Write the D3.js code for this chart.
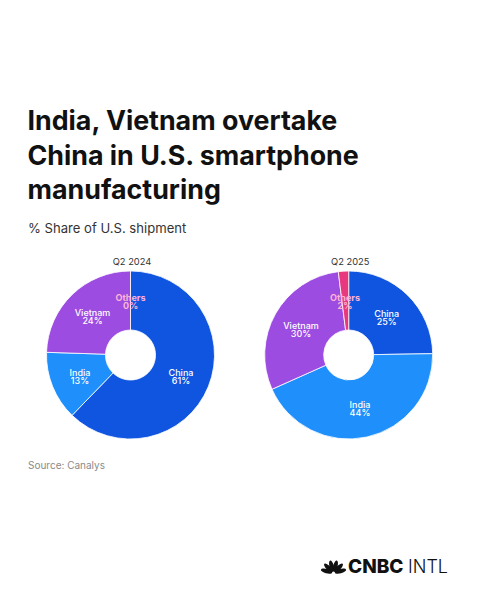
<!DOCTYPE html>
<html><head><meta charset="utf-8">
<script src="https://cdn.jsdelivr.net/npm/d3@7"></script>
<style>html,body{margin:0;padding:0;background:#fff}svg{display:block}text{font-family:Inter,Lato,sans-serif}</style>
</head><body><svg id="c" width="480" height="600"></svg>
<script>
const categories = ["China","India","Vietnam","Others"];
const values2024 = [61,13,24,0];
const values2025 = [25,44,30,2];
const periods = ["Q2 2024","Q2 2025"];
const colors = ["#0f55e0","#1f8ffb","#9c4ce0","#e8397f"];
const titleLines = ["India, Vietnam overtake","China in U.S. smartphone","manufacturing"];
const subtitle = "% Share of U.S. shipment";
const source = "Source: Canalys";

const svg = d3.select("#c");
const color = d3.scaleOrdinal(categories, colors);
const pie = d3.pie().sort(null).value(d=>d.v);
const R = 84, r0 = 25;
const arc = d3.arc().innerRadius(r0).outerRadius(R);

svg.selectAll("text.t").data(titleLines).join("text").attr("class","t")
  .attr("x",27.5).attr("y",(d,i)=>130+i*34.5)
  .attr("font-size",26.8).attr("font-weight",700).attr("fill","#111").text(d=>d);
svg.append("text").attr("x",28).attr("y",232.5).attr("font-size",13.1).attr("fill","#333").text(subtitle);
svg.append("text").attr("x",28).attr("y",469).attr("font-size",10).attr("fill","#8a8a8a").text(source);

const labelPos = {
 "Q2 2024":{China:[181,375.5],India:[80,375.5],Vietnam:[92.5,316],Others:[130.5,301]},
 "Q2 2025":{China:[386.7,316.5],India:[360,408],Vietnam:[301,328.5],Others:[345,301]}
};
function donut(period, vals, cx, cy){
  const g = svg.append("g").attr("transform",`translate(${cx},${cy})`);
  const data = categories.map((c,i)=>({c,v:vals[i]}));
  g.selectAll("path").data(pie(data)).join("path")
    .attr("d",arc).attr("fill",d=>color(d.data.c))
    .attr("stroke","#fff").attr("stroke-width",d=>d.value>0?0.8:0);
  svg.append("text").attr("x",cx+1.5).attr("y",265).attr("text-anchor","middle")
    .attr("font-size",9.3).attr("font-weight",400).attr("fill","#333").text(period);
  data.forEach(d=>{
    const p = labelPos[period][d.c];
    const other = d.c==="Others";
    const t = svg.append("text").attr("text-anchor","middle")
      .attr("font-size",9).attr("font-weight",other?700:500).attr("fill",other?"#ffb3d6":"#fff");
    [d.c, d.v+"%"].forEach((s,i)=>{
      t.append("tspan").attr("x",p[0]).attr("y",p[1]+i*8).text(s);
    });
  });
}
donut(periods[0],values2024,130.5,355);
donut(periods[1],values2025,348.7,355);

// logo
const logo = svg.append("g").attr("transform","translate(333.5,573)");
d3.range(6).forEach(i=>{
  const a = -75 + i*30;
  logo.append("ellipse").attr("cx",0).attr("cy",-7.2).attr("rx",2.2).attr("ry",5.8)
    .attr("fill","#111").attr("transform",`rotate(${a})`);
});
logo.append("text").attr("x",14.5).attr("y",0).attr("font-size",19).attr("font-weight",800).attr("fill","#111").text("CNBC");
logo.append("text").attr("x",74.5).attr("y",0).attr("font-size",18).attr("font-weight",300).attr("fill","#111").text("INTL");
</script></body></html>
